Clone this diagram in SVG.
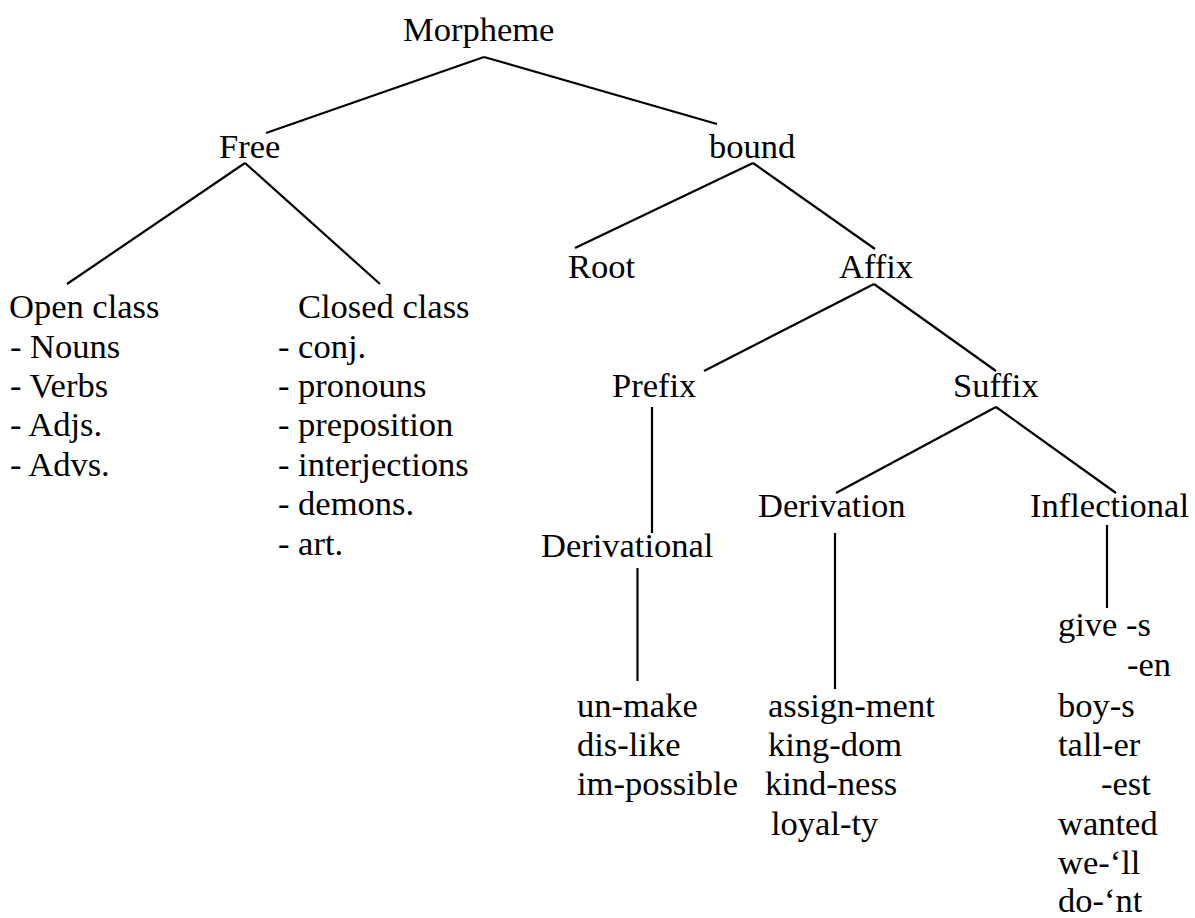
<svg xmlns="http://www.w3.org/2000/svg" width="1195" height="918" viewBox="0 0 1195 918">
<style>
.t { font-family: 'Liberation Serif', 'Times New Roman', Tinos, 'DejaVu Serif', serif; font-size: 34.5px; fill: #000; }
.edge { stroke: #000; stroke-width: 2.2; fill: none; stroke-linecap: butt; }
</style>
<rect width="1195" height="918" fill="#fff"/>
<g id="connectors">
  <line class="edge" x1="484" y1="57" x2="266" y2="133"/>
  <line class="edge" x1="484" y1="57" x2="717" y2="124"/>
  <line class="edge" x1="245" y1="163" x2="67" y2="284"/>
  <line class="edge" x1="245" y1="163" x2="380" y2="284"/>
  <line class="edge" x1="753" y1="163" x2="575" y2="248"/>
  <line class="edge" x1="753" y1="163" x2="875" y2="249"/>
  <line class="edge" x1="874" y1="284" x2="704" y2="371"/>
  <line class="edge" x1="874" y1="284" x2="996" y2="371"/>
  <line class="edge" x1="652" y1="407" x2="652" y2="533"/>
  <line class="edge" x1="996" y1="407" x2="836" y2="493"/>
  <line class="edge" x1="996" y1="407" x2="1116" y2="493"/>
  <line class="edge" x1="637.5" y1="568" x2="637.5" y2="681"/>
  <line class="edge" x1="835" y1="533" x2="835" y2="689"/>
  <line class="edge" x1="1107" y1="525" x2="1107" y2="608"/>
</g>
<g class="t" font-family="Liberation Serif, serif">
<g id="morpheme"><text x="403" y="41">Morpheme</text></g>
<g id="free"><text x="219" y="158">Free</text></g>
<g id="bound"><text x="709" y="158">bound</text></g>
<g id="open-class">
  <text x="9" y="318">Open class</text>
  <text x="10" y="358">- Nouns</text>
  <text x="10" y="397">- Verbs</text>
  <text x="10" y="436">- Adjs.</text>
  <text x="10" y="476">- Advs.</text>
</g>
<g id="closed-class">
  <text x="298" y="318">Closed class</text>
  <text x="278" y="358">- conj.</text>
  <text x="278" y="397">- pronouns</text>
  <text x="278" y="436">- preposition</text>
  <text x="278" y="476">- interjections</text>
  <text x="278" y="515">- demons.</text>
  <text x="278" y="555">- art.</text>
</g>
<g id="root"><text x="568" y="278">Root</text></g>
<g id="affix"><text x="839" y="278">Affix</text></g>
<g id="prefix"><text x="612" y="397">Prefix</text></g>
<g id="suffix"><text x="953" y="397">Suffix</text></g>
<g id="derivational"><text x="541" y="557">Derivational</text></g>
<g id="derivation"><text x="758" y="517">Derivation</text></g>
<g id="inflectional"><text x="1030" y="517">Inflectional</text></g>
<g id="prefix-examples">
  <text x="577" y="717">un-make</text>
  <text x="577" y="756">dis-like</text>
  <text x="577" y="795">im-possible</text>
</g>
<g id="derivation-examples">
  <text x="768" y="717">assign-ment</text>
  <text x="768" y="756">king-dom</text>
  <text x="765" y="795">kind-ness</text>
  <text x="771" y="835">loyal-ty</text>
</g>
<g id="inflectional-examples">
  <text x="1058" y="636">give -s</text>
  <text x="1127" y="676">-en</text>
  <text x="1058" y="717">boy-s</text>
  <text x="1058" y="756">tall-er</text>
  <text x="1101" y="795">-est</text>
  <text x="1058" y="835">wanted</text>
  <text x="1058" y="874">we-‘ll</text>
  <text x="1058" y="912">do-‘nt</text>
</g>
</g>
</svg>
